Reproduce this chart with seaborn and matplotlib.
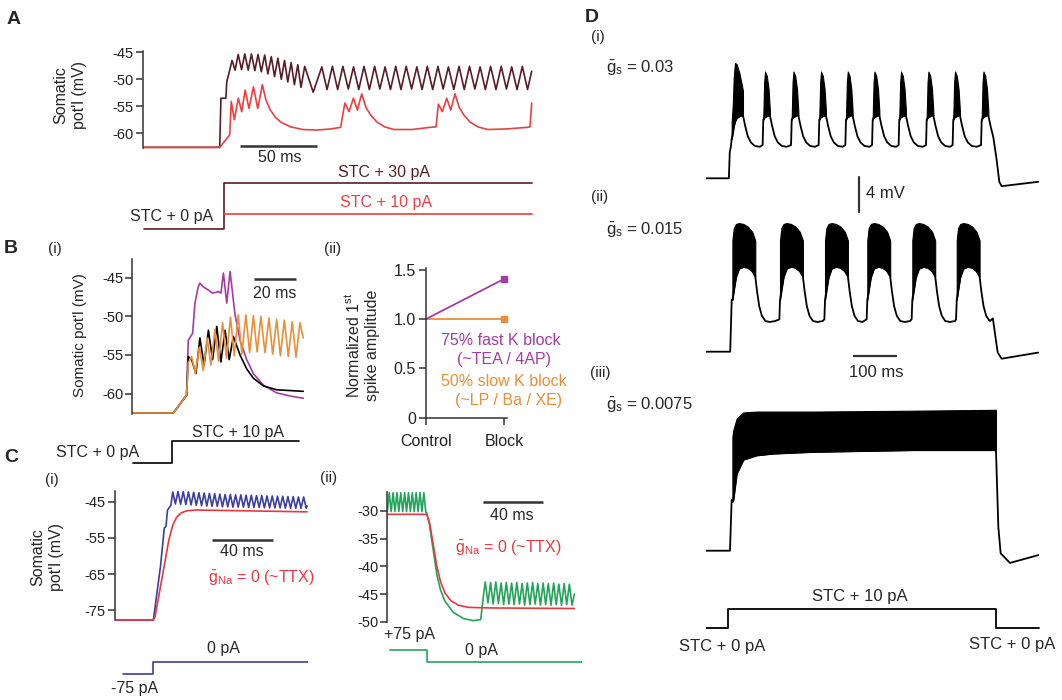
import numpy as np
import matplotlib
matplotlib.use('Agg')
import matplotlib.pyplot as plt
import seaborn as sns

# ---------------- data ----------------
# A: somatic potential, STC + 30 pA (dark) and STC + 10 pA (red); t in ms, v in mV
a_dark_lead_t = [0, 50, 50.8, 54, 54.6, 56]
a_dark_lead_v = [-62.6, -62.6, -53.5, -53.5, -50.4, -48.9]
a_dark_peak_t = [58, 62, 66.3, 70.6, 74.9, 79.2, 83.5, 87.8, 92.1, 96.4, 100.7, 105.2,
                 116.3, 123.2, 130, 136.9, 143.7, 150.6, 157.4, 164.3, 171.1, 178, 184.8,
                 191.7, 198.5, 205.4, 212.2, 219.1, 225.9, 232.8, 239.6, 246.5]
a_dark_peak_v = [-46.5, -45.4, -45.3, -45.3, -45.4, -45.5, -45.8, -46.1, -46.5, -46.9, -47.3, -47.6,
                 -47.7, -47.6, -47.6, -47.7, -47.6, -47.6, -47.7, -47.6, -47.6, -47.7, -47.6,
                 -47.6, -47.7, -47.6, -47.6, -47.7, -47.6, -47.6, -47.7, -47.6]
a_dark_trough_t = [60, 64.2, 68.5, 72.8, 77, 81.3, 85.6, 90, 94.2, 98.5, 102.8, 110.7,
                   119.7, 126.6, 133.5, 140.3, 147.2, 154, 160.9, 167.7, 174.6, 181.4, 188.3,
                   195.1, 202, 208.8, 215.7, 222.5, 229.4, 236.2, 243.1, 249.9]
a_dark_trough_v = [-48.3, -48.2, -48.3, -48.4, -48.6, -49.0, -49.5, -50.0, -50.5, -51.0, -51.5, -52.4,
                   -51.9, -51.9, -51.8, -51.9, -51.9, -51.8, -51.9, -51.9, -51.8, -51.9, -51.9,
                   -51.8, -51.9, -51.9, -51.8, -51.9, -51.9, -51.8, -51.9, -51.9]
a_dark_tail_t = [252.6]
a_dark_tail_v = [-48.5]

a_red_t = [0, 50, 56.5, 57.5, 59.5, 62.1, 64.3, 66.5, 69.0, 71.9,
           74.7, 77.7, 80, 82.7, 86, 90, 96, 104, 113, 122,
           128.5, 131.3, 134, 136.8, 139.4, 142.2, 145, 148, 152, 157,
           163, 175, 186.5, 190.5, 192, 194.6, 197.4, 200, 202.8, 205.5,
           208.5, 212.5, 217.5, 224, 236, 249.5, 251.5, 252.6]
a_red_v = [-62.6, -62.6, -60.3, -54.1, -57.5, -53.5, -56.0, -52.0, -55.4, -51.4,
           -55.4, -51.0, -53.8, -55.6, -57.0, -58.0, -58.8, -59.3, -59.4, -59.2,
           -58.9, -54.4, -56.0, -53.5, -55.7, -52.7, -55.2, -56.6, -57.9, -58.8,
           -59.3, -59.3, -58.9, -58.8, -54.6, -56.0, -53.5, -55.7, -52.7, -55.2,
           -56.6, -57.9, -58.8, -59.3, -59.2, -58.9, -58.8, -54.4]
a_stim_t = [1, 53, 53, 252.6]
a_stim30_i = [0, 0, 30, 30]
a_stim10_t = [53, 252.6]
a_stim10_i = [10, 10]

# B(i): control (black), fast K block (purple), slow K block (orange)
b_purple_t = [0, 19.7, 26.1, 26.9, 29.0, 30.1, 31.7, 32.5, 34.2, 36.6, 38.6, 41.4,
              42.6, 43.8, 45.4, 47.0, 49.4, 51.8, 55.0, 58.2, 63.0, 69.4, 75.8, 82.2]
b_purple_v = [-62.5, -62.5, -60.2, -53.1, -52.2, -48.3, -46.2, -45.7, -46.2, -46.6, -47.0, -46.8,
              -47.0, -44.4, -48.3, -44.2, -49.8, -53.1, -55.6, -57.4, -58.9, -59.9, -60.3, -60.6]
b_black_t = [0, 19.7, 26.1, 26.9, 28.5, 30.6, 32.5, 34.5, 36.6, 38.6, 40.6,
             42.6, 44.6, 46.6, 48.6, 51.8, 55.0, 58.2, 63.0, 69.4, 75.8, 82.2]
b_black_v = [-62.5, -62.5, -60.2, -55.2, -55.6, -57.4, -52.8, -56.3, -51.8, -55.6, -51.3,
             -55.9, -51.8, -55.6, -52.6, -55.0, -56.8, -58.0, -59.0, -59.5, -59.6, -59.7]
b_orange_lead_t = [0, 19.7, 26.1, 26.9]
b_orange_lead_v = [-62.5, -62.5, -60.2, -56.0]
b_orange_peak_t = [28.5, 32.2, 36.0, 39.7, 43.4, 47.2, 50.9, 54.6, 58.2, 61.8, 65.7, 69.4, 73.1, 76.9, 80.6]
b_orange_peak_v = [-55.2, -54.0, -52.8, -51.7, -50.8, -50.1, -49.8, -49.8, -49.9, -50.0, -50.2, -50.4, -50.5, -50.7, -50.8]
b_orange_trough_t = [30.3, 34.1, 37.8, 41.5, 45.3, 49.0, 52.7, 56.4, 60.0, 63.8, 67.5, 71.2, 75.0, 78.7]
b_orange_trough_v = [-57.4, -57.0, -56.3, -55.8, -55.4, -55.1, -54.9, -54.7, -54.6, -54.7, -54.9, -55.1, -55.2, -55.3]
b_orange_tail_t = [82.2]
b_orange_tail_v = [-52.8]
b_stim_t = [0.2, 19.3, 19.3, 80]
b_stim_i = [0, 0, 10, 10]

# B(ii): normalized first spike amplitude
b2_conditions = ['Control', 'Block']
b2_fast_k = [1.0, 1.41]
b2_slow_k = [1.0, 1.0]

# C(i): -75 pA -> 0 pA, control (blue) and gNa = 0 (red)
c1_red_t = [0, 24.9, 26.0, 35.0, 37.5, 40.0, 43.0, 46.5, 53.0, 124.7]
c1_red_v = [-77.7, -77.7, -76.8, -55.5, -51.5, -49.3, -48.1, -47.5, -47.3, -47.8]
c1_blue_lead_t = [0, 24.9, 29.5, 32.0, 33.1, 34.1, 36.3]
c1_blue_lead_v = [-77.7, -77.7, -63.0, -52.3, -51.8, -47.3, -46.0]
c1_blue_peak_t = [37.5, 40.9, 44.3, 47.7, 51.1, 54.5, 57.9, 61.3, 64.7, 68.1, 71.5, 74.9, 78.3,
                  81.7, 85.1, 88.5, 91.9, 95.3, 98.7, 102.1, 105.5, 108.9, 112.3, 115.7, 119.1, 122.5]
c1_blue_peak_v = [-42.3, -42.2, -42.2, -42.3, -42.4, -42.5, -42.6, -42.7, -42.8, -42.9, -43.0, -43.0, -43.1,
                  -43.1, -43.2, -43.2, -43.3, -43.3, -43.4, -43.4, -43.5, -43.5, -43.6, -43.6, -43.7, -43.7]
c1_blue_trough_t = [39.2, 42.6, 46.0, 49.4, 52.8, 56.2, 59.6, 63.0, 66.4, 69.8, 73.2, 76.6, 80.0,
                    83.4, 86.8, 90.2, 93.6, 97.0, 100.4, 103.8, 107.2, 110.6, 114.0, 117.4, 120.8, 124.2]
c1_blue_trough_v = [-45.6, -45.7, -45.8, -45.9, -46.0, -46.1, -46.2, -46.3, -46.3, -46.4, -46.4, -46.5, -46.5,
                    -46.5, -46.6, -46.6, -46.6, -46.7, -46.7, -46.7, -46.7, -46.8, -46.8, -46.8, -46.8, -46.8]
c1_blue_tail_t = [124.7]
c1_blue_tail_v = [-46.2]
c1_stim_t = [5, 24.9, 24.9, 126]
c1_stim_i = [-75, -75, 0, 0]

# C(ii): +75 pA -> 0 pA, control (green) and gNa = 0 (red)
c2_red_t = [0, 26.6, 28.5, 31.0, 33.5, 36.0, 39.0, 43.0, 48.0, 55.0, 70.0, 126.4]
c2_red_v = [-30.6, -30.6, -32.0, -36.0, -40.0, -42.8, -44.8, -46.2, -47.0, -47.4, -47.5, -47.6]
c2_green_peak_t = [1.3, 3.9, 6.5, 9.1, 11.7, 14.3, 16.9, 19.5, 22.1, 24.7,
                   66.2, 69.8, 73.3, 76.9, 80.4, 84.0, 87.5, 91.1, 94.6, 98.2, 101.7, 105.3,
                   108.8, 112.4, 115.9, 119.5, 123.0]
c2_green_peak_v = [-26.7, -26.7, -26.7, -26.7, -26.7, -26.7, -26.7, -26.7, -26.7, -26.7,
                   -42.8, -42.9, -42.8, -43.0, -42.9, -43.0, -42.9, -43.1, -43.0, -42.9, -43.1, -43.0,
                   -43.1, -43.0, -43.2, -43.1, -43.2]
c2_green_trough_t = [0, 2.6, 5.2, 7.8, 10.4, 13.0, 15.6, 18.2, 20.8, 23.4, 26.0,
                     68.0, 71.5, 75.1, 78.6, 82.2, 85.7, 89.3, 92.8, 96.4, 99.9, 103.5,
                     107.0, 110.6, 114.1, 117.7, 121.2, 124.8]
c2_green_trough_v = [-30.1, -30.1, -30.1, -30.1, -30.1, -30.1, -30.1, -30.1, -30.1, -30.1, -30.2,
                     -46.6, -46.8, -46.7, -46.9, -46.8, -46.9, -46.8, -47.0, -46.9, -46.8, -47.0,
                     -46.9, -47.0, -46.9, -47.0, -46.9, -47.0]
c2_green_drop_t = [26.6, 28.5, 31.0, 33.5, 36.0, 39.0, 44.6, 51.4, 58.1, 63.1, 64.0, 65.0]
c2_green_drop_v = [-30.3, -32.5, -37.0, -41.5, -44.3, -46.3, -48.3, -49.4, -49.8, -49.6, -47.5, -45.2]
c2_green_tail_t = [126.4]
c2_green_tail_v = [-45.0]
c2_stim_t = [1.8, 26.6, 26.6, 131.5]
c2_stim_i = [75, 75, 0, 0]

# D(i): gs = 0.03, bursting
d1_lead_t = [0, 52, 54, 56.5]
d1_lead_v = [-62.5, -62.5, -59.5, -58.9]
d1_first_t = [58.4, 61, 63, 66, 70, 76, 84]
d1_first_top = [-56.0, -54.0, -51.0, -49.3, -49.5, -50.5, -52.5]
d1_first_bot = [-58.0, -57.3, -56.6, -56.0, -55.6, -55.4, -55.3]
d1_onsets = [130.2, 194.8, 257.5, 318.2, 378.9, 439.3, 501.6, 562.0, 626.6]
d1_burst_dt = [0, 2, 4, 8, 12, 15]
d1_burst_top = [-55.5, -51.5, -50.3, -50.8, -52.3, -54.8]
d1_burst_bot = [-55.8, -55.6, -55.5, -55.4, -55.3, -55.3]
d1_decay_dt = [0, 5, 11, 18, 27, 38]
d1_decay_v = [-55.3, -56.5, -57.7, -58.4, -58.8, -58.9]
d1_pre_v = -58.7
d1_tail_t = [653, 660.6, 666.6, 672, 755]
d1_tail_v = [-57.8, -60.4, -62.9, -63.4, -62.9]

# D(ii): gs = 0.015
d2_lead_t = [0, 55, 58.4]
d2_lead_v = [-62.5, -62.5, -56.6]
d2_onsets = [60, 168.2, 270.5, 366.6, 468.9, 569.8]
d2_burst_dt = [0, 3, 8, 15, 25, 35, 45, 52]
d2_burst_top = [-49.8, -48.4, -47.9, -47.8, -47.9, -48.2, -48.8, -49.8]
d2_burst_bot = [-56.6, -55.6, -54.0, -53.0, -52.8, -52.9, -53.3, -53.9]
d2_decay_dt = [0, 4, 9, 15, 23, 33, 45]
d2_decay_v = [-53.9, -55.6, -57.3, -58.4, -59.0, -59.1, -59.0]
d2_pre_v = -58.8
d2_tail_t = [652, 657, 663, 672, 755]
d2_tail_v = [-58.7, -60.5, -62.6, -63.3, -62.6]

# D(iii): gs = 0.0075, tonic
d3_line_t = [0, 54.5, 58.3, 60]
d3_line_v = [-62.5, -62.5, -56.7, -56.9]
d3_band_t = [60, 62.1, 69.7, 84.8, 115.2, 153, 243.9, 471.2, 656.8, 659]
d3_band_top = [-49.5, -48.7, -47.4, -46.7, -46.6, -46.6, -46.6, -46.5, -46.4, -46.4]
d3_band_bot = [-56.9, -56.7, -53.7, -52.1, -51.6, -51.4, -51.2, -51.0, -51.0, -51.0]
d3_tail_t = [659, 664.4, 669.7, 690.9, 755.3]
d3_tail_v = [-51.0, -59.8, -62.8, -63.9, -63.0]
d_stim_t = [0, 51, 51, 659, 659, 757]
d_stim_i = [0, 0, 10, 10, 0, 0]

# ---------------- style ----------------
sns.set_theme(style='ticks')
plt.rcParams['font.family'] = ['Liberation Sans', 'DejaVu Sans']
plt.rcParams['mathtext.fontset'] = 'custom'
plt.rcParams['mathtext.rm'] = 'Liberation Sans'
plt.rcParams['mathtext.it'] = 'Liberation Sans:italic'
plt.rcParams['mathtext.bf'] = 'Liberation Sans:bold'

A_DARK = '#5a1c24'
A_RED = '#e8413f'
PURPLE = '#a63aa6'
ORANGE = '#e98f3b'
BLUE = '#3b3f9e'
C_RED = '#e8383d'
GREEN = '#22a45a'
AXC = '#333333'
TXT = 11.5      # annotation text
TICK = 10.5     # tick labels
DTXT = 12       # panel D text

W, H = 1062, 700
fig = plt.figure(figsize=(W / 100, H / 100), dpi=100)


def trace_ax(x0, xs, tlim, y0, v0, ys, vlim):
    # x0: pixel column of t=0, xs px per ms; y0: pixel row of value v0, ys px per unit
    left = x0 + tlim[0] * xs
    width = (tlim[1] - tlim[0]) * xs
    top = y0 - (vlim[1] - v0) * ys
    height = (vlim[1] - vlim[0]) * ys
    ax = fig.add_axes([left / W, 1 - (top + height) / H, width / W, height / H])
    ax.set_xlim(tlim)
    ax.set_ylim(vlim)
    ax.patch.set_alpha(0)
    ax.axis('off')
    return ax


def left_axis(ax, ticks, bounds, size=TICK):
    ax.axis('on')
    for s in ['top', 'right', 'bottom']:
        ax.spines[s].set_visible(False)
    ax.spines['left'].set_bounds(*bounds)
    ax.spines['left'].set_color(AXC)
    ax.spines['left'].set_linewidth(1.1)
    ax.set_xticks([])
    ax.set_yticks(ticks)
    ax.set_yticklabels([f'{t:g}' for t in ticks])
    ax.tick_params(axis='y', length=5, width=1.1, color=AXC, labelsize=size, pad=1.5, labelcolor='#222')


def trace(ax, t, v, color, lw=1.2):
    sns.lineplot(x=np.asarray(t, float), y=np.asarray(v, float), ax=ax, color=color, lw=lw,
                 sort=False, estimator=None, legend=False)


def zigzag(lead_t, lead_v, pk_t, pk_v, tr_t, tr_v, tail_t, tail_v):
    t = np.concatenate([pk_t, tr_t])
    v = np.concatenate([pk_v, tr_v])
    order = np.argsort(t)
    return (np.concatenate([lead_t, t[order], tail_t]),
            np.concatenate([lead_v, v[order], tail_v]))


def bursts(ax, lead_t, lead_v, burst_list, decay_dt, decay_v, pre_v, t_stop, tail_t, tail_v):
    lt, lv = list(lead_t), list(lead_v)
    for k, (bt, top, bot) in enumerate(burst_list):
        if k > 0:
            lt.append(bt[0] - 1.5)
            lv.append(pre_v)
        ax.fill_between(bt, bot, top, color='black', lw=0.8, edgecolor='black')
        lt += list(bt)
        lv += list(bot)
        nxt = burst_list[k + 1][0][0] if k + 1 < len(burst_list) else t_stop
        for dt, dv in zip(decay_dt[1:], decay_v[1:]):
            if bt[-1] + dt < nxt - 1.5:
                lt.append(bt[-1] + dt)
                lv.append(dv)
    lt += list(tail_t)
    lv += list(tail_v)
    trace(ax, lt, lv, 'black', lw=1.3)


def ftext(x, y, s, ha='center', va='center', size=TXT, **kw):
    fig.text(x / W, 1 - y / H, s, ha=ha, va=va, fontsize=size, **kw)


def hbar(ax, t0, t1, v, lw=1.8):
    ax.plot([t0, t1], [v, v], color=AXC, lw=lw, clip_on=False, solid_capstyle='butt')


# ---------------- A ----------------
axA = trace_ax(142.7, 1.54, (0, 256), 52.3, -45, 5.4, (-63.5, -44.5))
t, v = zigzag(a_dark_lead_t, a_dark_lead_v, a_dark_peak_t, a_dark_peak_v,
              a_dark_trough_t, a_dark_trough_v, a_dark_tail_t, a_dark_tail_v)
trace(axA, t, v, A_DARK)
trace(axA, a_red_t, a_red_v, A_RED)
left_axis(axA, [-45, -50, -55, -60], (-62.8, -44.8))
hbar(axA, 63, 113, -62.3)
ftext(280, 158, '50 ms')
ftext(70, 95, "Somatic\npot'l (mV)", rotation=90, linespacing=1.35)
ftext(14, 20, 'A', size=14, weight='bold')

axAs = trace_ax(142.7, 1.54, (0, 256), 229.3, 0, 1.543, (-3, 33))
trace(axAs, a_stim_t, a_stim30_i, A_DARK)
trace(axAs, a_stim10_t, a_stim10_i, A_RED)
ftext(172, 216.5, 'STC + 0 pA')
ftext(384, 172, 'STC + 30 pA', color=A_DARK)
ftext(386, 202, 'STC + 10 pA', color=A_RED)

# ---------------- B(i) ----------------
axB = trace_ax(132.3, 2.08, (0, 83), 277.7, -45, 7.73, (-63, -42.5))
trace(axB, b_purple_t, b_purple_v, PURPLE)
trace(axB, b_black_t, b_black_v, 'black')
t, v = zigzag(b_orange_lead_t, b_orange_lead_v, b_orange_peak_t, b_orange_peak_v,
              b_orange_trough_t, b_orange_trough_v, b_orange_tail_t, b_orange_tail_v)
trace(axB, t, v, ORANGE)
left_axis(axB, [-45, -50, -55, -60], (-62.6, -42.6))
hbar(axB, 58.5, 78.5, -45.2)
ftext(275, 293, '20 ms')
ftext(80, 335, "Somatic pot'l (mV)", rotation=90, size=11)
ftext(11, 249, 'B', size=14, weight='bold')
ftext(55, 249, '(i)', size=11)

axBs = trace_ax(132.3, 2.08, (0, 83), 462.8, 0, 2.2, (-2, 12))
trace(axBs, b_stim_t, b_stim_i, 'black')
ftext(98, 452, 'STC + 0 pA')
ftext(238, 432, 'STC + 10 pA')

# ---------------- B(ii) ----------------
axB2 = trace_ax(425.7, 78.6, (0, 1.03), 417.7, 0, 98.5, (0, 1.52))
axB2.axis('on')
x_pos = np.arange(len(b2_conditions))
sns.lineplot(x=x_pos, y=b2_slow_k, ax=axB2, color=ORANGE, lw=1.3, estimator=None, sort=False)
sns.lineplot(x=x_pos, y=b2_fast_k, ax=axB2, color=PURPLE, lw=1.3, estimator=None, sort=False)
axB2.scatter([x_pos[1]], [b2_slow_k[1]], marker='s', s=22, color=ORANGE, zorder=3, clip_on=False)
axB2.scatter([x_pos[1]], [b2_fast_k[1]], marker='s', s=22, color=PURPLE, zorder=3, clip_on=False)
for s in ['top', 'right']:
    axB2.spines[s].set_visible(False)
for s in ['left', 'bottom']:
    axB2.spines[s].set_color(AXC)
    axB2.spines[s].set_linewidth(1.1)
axB2.set_yticks([0, 0.5, 1.0, 1.5])
axB2.set_yticklabels(['0', '0.5', '1.0', '1.5'])
axB2.set_xticks(x_pos)
axB2.set_xticklabels(b2_conditions)
axB2.set_xlim(0, 1.03)
axB2.set_ylim(0, 1.52)
axB2.tick_params(length=5, width=1.1, color=AXC, labelsize=11.5, labelcolor='#222', pad=2)
axB2.tick_params(axis='x', pad=7)
ftext(362, 345, 'Normalized 1$^{\\mathrm{st}}$\nspike amplitude', rotation=90, size=11.5, linespacing=1.3)
ftext(333, 249, '(ii)', size=11)
ftext(441, 340, '75% fast K block', ha='left', color=PURPLE)
ftext(457, 360, '(~TEA / 4AP)', ha='left', color=PURPLE)
ftext(441, 381, '50% slow K block', ha='left', color=ORANGE)
ftext(455, 401, '(~LP / Ba / XE)', ha='left', color=ORANGE)

# ---------------- C(i) ----------------
axC = trace_ax(115, 1.54, (0, 125), 501.7, -45, 3.62, (-78.5, -41.5))
t, v = zigzag(c1_blue_lead_t, c1_blue_lead_v, c1_blue_peak_t, c1_blue_peak_v,
              c1_blue_trough_t, c1_blue_trough_v, c1_blue_tail_t, c1_blue_tail_v)
trace(axC, t, v, BLUE)
trace(axC, c1_red_t, c1_red_v, C_RED)
left_axis(axC, [-45, -55, -65, -75], (-77.8, -42))
hbar(axC, 62.8, 102.8, -55.6)
ftext(242, 552, '40 ms')
ftext(208, 578, r'$\bar{\mathrm{g}}_{\mathrm{Na}}$ = 0 (~TTX)', ha='left', color=C_RED)
ftext(47, 557, "Somatic\npot'l (mV)", rotation=90, linespacing=1.35)
ftext(11, 457, 'C', size=14, weight='bold')
ftext(52, 480, '(i)', size=11)

axCs = trace_ax(115, 1.54, (0, 125), 661.7, 0, 0.164, (-85, 10))
trace(axCs, c1_stim_t, c1_stim_i, BLUE)
ftext(223, 649, '0 pA')
ftext(135, 689, '-75 pA')

# ---------------- C(ii) ----------------
axC2 = trace_ax(387.3, 1.48, (0, 127), 511, -30, 5.54, (-50.5, -26.3))
t, v = zigzag([], [], c2_green_peak_t, c2_green_peak_v,
              c2_green_trough_t + c2_green_drop_t, c2_green_trough_v + c2_green_drop_v,
              c2_green_tail_t, c2_green_tail_v)
trace(axC2, t, v, GREEN)
trace(axC2, c2_red_t, c2_red_v, C_RED)
left_axis(axC2, [-30, -35, -40, -45, -50], (-50, -26.5))
hbar(axC2, 64.9, 104.9, -28.4)
ftext(512, 515, '40 ms')
ftext(455, 548, r'$\bar{\mathrm{g}}_{\mathrm{Na}}$ = 0 (~TTX)', ha='left', color=C_RED)
ftext(329, 478, '(ii)', size=11)

axC2s = trace_ax(387.3, 1.48, (0, 131.5), 662, 0, 0.16, (-10, 85))
trace(axC2s, c2_stim_t, c2_stim_i, GREEN)
ftext(410, 635, '+75 pA')
ftext(481, 651, '0 pA')

# ---------------- D ----------------
axD1 = trace_ax(706, 0.44, (0, 760), 178.3, -62.5, 8.75, (-65, -48))
d1_list = [(np.array(d1_first_t), d1_first_top, d1_first_bot)]
for on in d1_onsets:
    d1_list.append((on + np.array(d1_burst_dt), d1_burst_top, d1_burst_bot))
bursts(axD1, d1_lead_t, d1_lead_v, d1_list, d1_decay_dt, d1_decay_v, d1_pre_v, 653,
       d1_tail_t, d1_tail_v)
axD1.plot([348.4, 348.4], [-62.3, -66.3], color=AXC, lw=1.6, clip_on=False)
ftext(866, 194, '4 mV', ha='left', size=DTXT)

axD2 = trace_ax(706, 0.44, (0, 760), 351.7, -62.5, 8.75, (-65, -46))
d2_list = [(on + np.array(d2_burst_dt), d2_burst_top, d2_burst_bot) for on in d2_onsets]
bursts(axD2, d2_lead_t, d2_lead_v, d2_list, d2_decay_dt, d2_decay_v, d2_pre_v, 652,
       d2_tail_t, d2_tail_v)
hbar(axD2, 333.4, 433.4, -63.0, lw=1.6)
ftext(876, 373, '100 ms', size=DTXT)

axD3 = trace_ax(706, 0.44, (0, 760), 550.7, -62.5, 8.75, (-65, -45))
axD3.fill_between(d3_band_t, d3_band_bot, d3_band_top, color='black', lw=0.8, edgecolor='black')
trace(axD3, d3_line_t, d3_line_v, 'black', lw=1.3)
trace(axD3, d3_band_t, d3_band_bot, 'black', lw=1.3)
trace(axD3, d3_tail_t, d3_tail_v, 'black', lw=1.3)

axDs = trace_ax(706, 0.44, (0, 760), 628.3, 0, 1.9, (-3, 13))
trace(axDs, d_stim_t, d_stim_i, 'black', lw=1.3)
ftext(860, 597, 'STC + 10 pA', size=DTXT)
ftext(722, 647, 'STC + 0 pA', size=DTXT)
ftext(1012, 645, 'STC + 0 pA', size=DTXT)

ftext(592, 17, 'D', size=14, weight='bold')
ftext(591, 37, '(i)', ha='left', size=11)
ftext(606, 68, r'$\bar{\mathrm{g}}_{\mathrm{s}}$ = 0.03', ha='left', size=DTXT)
ftext(591, 197, '(ii)', ha='left', size=11)
ftext(606, 230, r'$\bar{\mathrm{g}}_{\mathrm{s}}$ = 0.015', ha='left', size=DTXT)
ftext(590, 373, '(iii)', ha='left', size=11)
ftext(606, 405, r'$\bar{\mathrm{g}}_{\mathrm{s}}$ = 0.0075', ha='left', size=DTXT)

fig.savefig('out.png', dpi=100)
